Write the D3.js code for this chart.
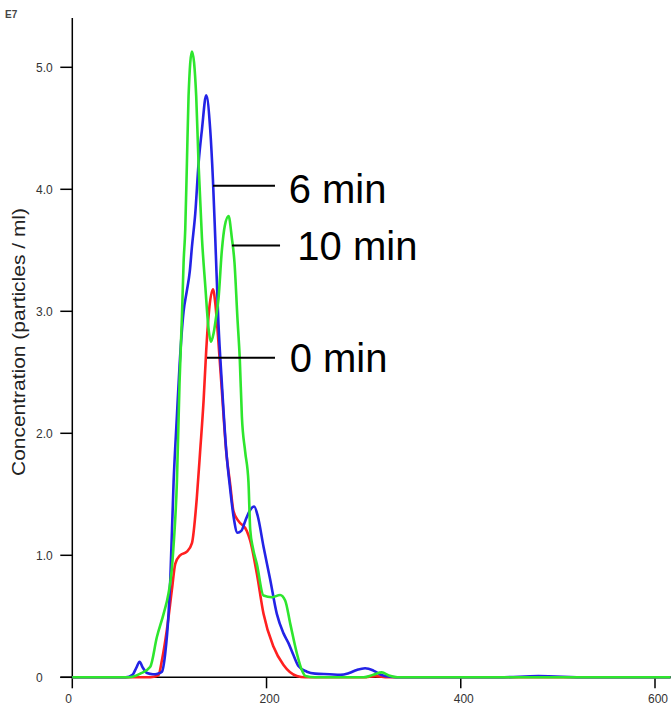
<!DOCTYPE html>
<html>
<head>
<meta charset="utf-8">
<script src="https://cdn.jsdelivr.net/npm/d3@7"></script>
<style>
  html, body { margin: 0; padding: 0; background: #fff; }
  svg { display: block; font-family: "Liberation Sans", Arial, sans-serif; }
</style>
</head>
<body>
<svg id="chart" width="671" height="710"></svg>
<script>
// ---- data (particle size, nm; concentration, x1e7 particles/ml) ----
const sizes0min = [0, 77, 84, 88.8, 92.3, 97.4, 102.6, 106, 111, 118, 123.2, 128.3, 131.7, 135.2, 137.9, 140.3, 144.8, 147.2, 150, 154, 158.5, 162.6, 166, 171.2, 179.7, 183.2, 190, 196.9, 207.2, 217.5, 231.2, 240, 300, 312, 325, 616];
const conc0min  = [0, 0, 0.005, 0.02, 0.14, 0.39, 0.72, 0.93, 1.0, 1.03, 1.10, 1.48, 1.86, 2.27, 2.68, 2.96, 3.18, 3.07, 2.8, 2.35, 1.85, 1.58, 1.36, 1.28, 1.2, 1.12, 0.85, 0.52, 0.25, 0.10, 0.01, 0, 0, 0.01, 0, 0];

const sizes6min = [0, 55, 62, 66, 69.3, 72.5, 77, 83, 88, 92.3, 95.7, 99.1, 100.9, 104.3, 107.7, 110.4, 114.6, 118, 121, 123.2, 126.6, 130, 133.5, 137.9, 142, 144.8, 147.2, 150.5, 154, 158.5, 162.6, 166, 170.1, 174, 178, 183, 187.3, 191, 196.9, 203.8, 210.6, 217.5, 222.6, 227.8, 233, 241.5, 250, 265, 276, 285, 293, 301.5, 310, 318, 327, 340, 440, 480, 530, 616];
const conc6min  = [0, 0, 0.02, 0.08, 0.128, 0.08, 0.035, 0.025, 0.03, 0.046, 0.197, 0.52, 0.80, 1.6, 2.14, 2.55, 3.0, 3.17, 3.33, 3.53, 3.80, 4.21, 4.49, 4.77, 4.49, 4.08, 3.6, 2.9, 2.41, 1.86, 1.54, 1.32, 1.185, 1.2, 1.28, 1.37, 1.40, 1.32, 1.07, 0.80, 0.52, 0.36, 0.28, 0.18, 0.09, 0.046, 0.03, 0.025, 0.02, 0.035, 0.06, 0.074, 0.055, 0.02, 0.005, 0, 0, 0.01, 0, 0];

const sizes10min = [0, 55, 62, 70, 80.3, 87.1, 94, 99.1, 102, 104.2, 107.7, 110.4, 112.9, 114.6, 116.3, 118, 119.7, 123.2, 127.6, 130, 133.5, 137, 140, 142.7, 145.5, 148, 150.5, 154, 157, 160.9, 164.3, 167, 170, 172.5, 174.6, 178, 181.4, 183.2, 186, 190, 196.9, 205.5, 214, 219.2, 224.4, 231.2, 236.3, 240, 250, 300, 310, 318.7, 326, 335, 616];
const conc10min  = [0, 0, 0.005, 0.03, 0.087, 0.33, 0.52, 0.69, 0.85, 1.07, 1.6, 2.41, 2.96, 3.4, 3.67, 4.21, 4.76, 5.13, 4.76, 4.21, 3.6, 3.2, 2.88, 2.75, 2.82, 2.95, 3.1, 3.5, 3.7, 3.78, 3.6, 3.4, 2.95, 2.6, 2.14, 1.85, 1.6, 1.21, 1.06, 0.93, 0.67, 0.656, 0.675, 0.63, 0.44, 0.197, 0.06, 0.01, 0, 0, 0.02, 0.04, 0.015, 0, 0];

const seriesNames = ["0 min", "6 min", "10 min"];
const xTicks = [0, 200, 400, 600];
const xTickLabels = ["0", "200", "400", "600"];
const yTicks = [0, 1, 2, 3, 4, 5];
const yTickLabels = ["0", "1.0", "2.0", "3.0", "4.0", "5.0"];

// ---- layout ----
const svg = d3.select("#chart");
const x = d3.scaleLinear().domain([0, 600]).range([72.3, 655]);
const y = d3.scaleLinear().domain([0, 5]).range([677.3, 67.3]);
const xMax = x.invert(671);

const series = [
  { name: seriesNames[0], xs: sizes0min,  ys: conc0min,  color: "#ff2020" },
  { name: seriesNames[1], xs: sizes6min,  ys: conc6min,  color: "#2323e6" },
  { name: seriesNames[2], xs: sizes10min, ys: conc10min, color: "#2ee62e" }
];

const line = d3.line()
  .x(d => x(d[0]))
  .y(d => y(d[1]))
  .curve(d3.curveMonotoneX);

// axes
const axisG = svg.append("g");
axisG.append("line")
  .attr("x1", x(0)).attr("x2", x(0))
  .attr("y1", 18).attr("y2", y(0))
  .attr("stroke", "#000").attr("stroke-width", 1.5);
axisG.append("line")
  .attr("x1", x(0) - 12).attr("x2", 671)
  .attr("y1", y(0)).attr("y2", y(0))
  .attr("stroke", "#000").attr("stroke-width", 1.5);

yTicks.forEach((t, i) => {
  axisG.append("line")
    .attr("x1", x(0) - 12).attr("x2", x(0))
    .attr("y1", y(t)).attr("y2", y(t))
    .attr("stroke", "#000").attr("stroke-width", 1.5);
  axisG.append("text")
    .attr("x", 36).attr("y", y(t) + 4.3)
    .attr("font-size", 12).attr("fill", "#333")
    .text(yTickLabels[i]);
});

xTicks.forEach((t, i) => {
  axisG.append("line")
    .attr("x1", x(t)).attr("x2", x(t))
    .attr("y1", y(0)).attr("y2", y(0) + 11)
    .attr("stroke", "#000").attr("stroke-width", 1.5);
  axisG.append("text")
    .attr("x", x(t) - 7).attr("y", 703)
    .attr("font-size", 12).attr("fill", "#333")
    .text(xTickLabels[i]);
});

svg.append("text")
  .attr("x", 5).attr("y", 18)
  .attr("font-size", 10).attr("font-weight", "bold").attr("fill", "#444")
  .text("E7");

svg.append("text")
  .attr("transform", "translate(25,342) rotate(-90)")
  .attr("text-anchor", "middle")
  .attr("font-size", 18.5)
  .attr("fill", "#222")
  .attr("textLength", 268)
  .attr("lengthAdjust", "spacingAndGlyphs")
  .text("Concentration (particles / ml)");

const curveG = svg.append("g");
series.forEach(s => {
  const pts = s.xs.map((v, i) => [v, s.ys[i]]).filter(p => p[0] <= xMax);
  curveG.append("path")
    .datum(pts)
    .attr("fill", "none")
    .attr("stroke", s.color)
    .attr("stroke-width", 2.6)
    .attr("stroke-linejoin", "round")
    .attr("d", line);
});

const annotations = [
  { label: seriesNames[1], y: 4.03, x1: 144.9, x2: 208.7, tx: 222.8, ty: 3.89 },
  { label: seriesNames[2], y: 3.54, x1: 164.4, x2: 213.9, tx: 231.7, ty: 3.42 },
  { label: seriesNames[0], y: 2.62, x1: 138.7, x2: 208.7, tx: 223.8, ty: 2.505 }
];
const annG = svg.append("g");
annotations.forEach(a => {
  annG.append("line")
    .attr("x1", x(a.x1)).attr("x2", x(a.x2))
    .attr("y1", y(a.y)).attr("y2", y(a.y))
    .attr("stroke", "#000").attr("stroke-width", 2);
  annG.append("text")
    .attr("x", x(a.tx)).attr("y", y(a.ty))
    .attr("font-size", 40).attr("fill", "#000")
    .text(a.label);
});
</script>
</body>
</html>
